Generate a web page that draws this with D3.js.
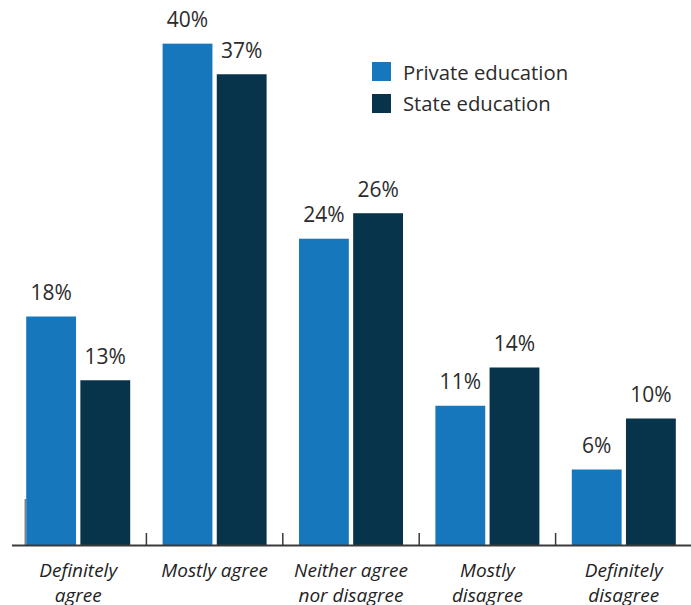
<!DOCTYPE html>
<html>
<head>
<meta charset="utf-8">
<script src="https://cdn.jsdelivr.net/npm/d3@7"></script>
<style>
  html, body { margin: 0; padding: 0; background: #fff; }
  svg { display: block; }
</style>
</head>
<body>
<div id="chart"></div>
<script>
// ---- data ----
const categories = [
  ["Definitely", "agree"],
  ["Mostly agree"],
  ["Neither agree", "nor disagree"],
  ["Mostly", "disagree"],
  ["Definitely", "disagree"]
];
const seriesNames = ["Private education", "State education"];
const privateValues = [18, 39.4, 24.1, 11, 6];
const stateValues = [13, 37, 26.1, 14, 10];
const privateLabels = ["18%", "40%", "24%", "11%", "6%"];
const stateLabels = ["13%", "37%", "26%", "14%", "10%"];
const colors = ["#1777bc", "#07344a"];

// ---- layout ----
const W = 691, H = 605;
const baseline = 546;
const svg = d3.select("#chart").append("svg").attr("width", W).attr("height", H);

const catKeys = categories.map((c, i) => i);
const x0 = d3.scaleBand().domain(catKeys).range([10, 692]).paddingInner(0).paddingOuter(0);
const step = x0.bandwidth();
const x1 = d3.scaleBand().domain([0, 1]).range([step / 2 - 52, step / 2 + 52]).paddingInner(0.08);
const y = d3.scaleLinear().domain([0, 40]).range([baseline, 36]);

const rows = catKeys.map(i => ({
  i,
  vals: [
    { s: 0, v: privateValues[i], label: privateLabels[i] },
    { s: 1, v: stateValues[i], label: stateLabels[i] }
  ]
}));

// bars
const g = svg.selectAll("g.grp").data(rows).enter().append("g")
  .attr("class", "grp")
  .attr("transform", d => `translate(${x0(d.i)},0)`);

g.selectAll("rect").data(d => d.vals).enter().append("rect")
  .attr("x", d => x1(d.s))
  .attr("width", x1.bandwidth())
  .attr("y", d => y(d.v))
  .attr("height", d => baseline - y(d.v))
  .attr("fill", d => colors[d.s]);

g.selectAll("text.val").data(d => d.vals).enter().append("text")
  .attr("class", "val")
  .attr("x", d => x1(d.s) + x1.bandwidth() / 2)
  .attr("y", d => y(d.v) - 16.5)
  .attr("text-anchor", "middle")
  .attr("font-family", "'Open Sans', sans-serif")
  .attr("font-size", 21)
  .attr("fill", "#2b2b2b")
  .text(d => d.label);

// thin left edge line
svg.append("line")
  .attr("x1", x0(0) + x1(0) - 1).attr("x2", x0(0) + x1(0) - 1)
  .attr("y1", 499).attr("y2", baseline)
  .attr("stroke", "#444").attr("stroke-width", 1);

// axis line
svg.append("line")
  .attr("x1", 12).attr("x2", W)
  .attr("y1", baseline - 0.5).attr("y2", baseline - 0.5)
  .attr("stroke", "#3a3a3a").attr("stroke-width", 2);

// ticks between groups
svg.selectAll("line.tick").data(catKeys.slice(1)).enter().append("line")
  .attr("class", "tick")
  .attr("x1", d => x0(d)).attr("x2", d => x0(d))
  .attr("y1", 533).attr("y2", baseline)
  .attr("stroke", "#3a3a3a").attr("stroke-width", 1.5);

// category labels
const lab = svg.selectAll("text.cat").data(rows).enter().append("text")
  .attr("class", "cat")
  .attr("text-anchor", "middle")
  .attr("font-family", "'Open Sans', sans-serif")
  .attr("font-style", "italic")
  .attr("font-size", 19)
  .attr("fill", "#222");
lab.selectAll("tspan").data(d => categories[d.i].map(t => ({ t, i: d.i }))).enter().append("tspan")
  .attr("x", d => x0(d.i) + step / 2)
  .attr("y", (d, k) => 577 + k * 25)
  .text(d => d.t);

// legend
const leg = svg.append("g");
seriesNames.forEach((name, k) => {
  leg.append("rect")
    .attr("x", 372).attr("y", 62 + k * 32)
    .attr("width", 19).attr("height", 19)
    .attr("fill", colors[k]);
  leg.append("text")
    .attr("x", 403).attr("y", 80 + k * 31)
    .attr("font-family", "'Open Sans', sans-serif")
    .attr("font-size", 20.3)
    .attr("fill", "#2b2b2b")
    .text(name);
});
</script>
</body>
</html>
